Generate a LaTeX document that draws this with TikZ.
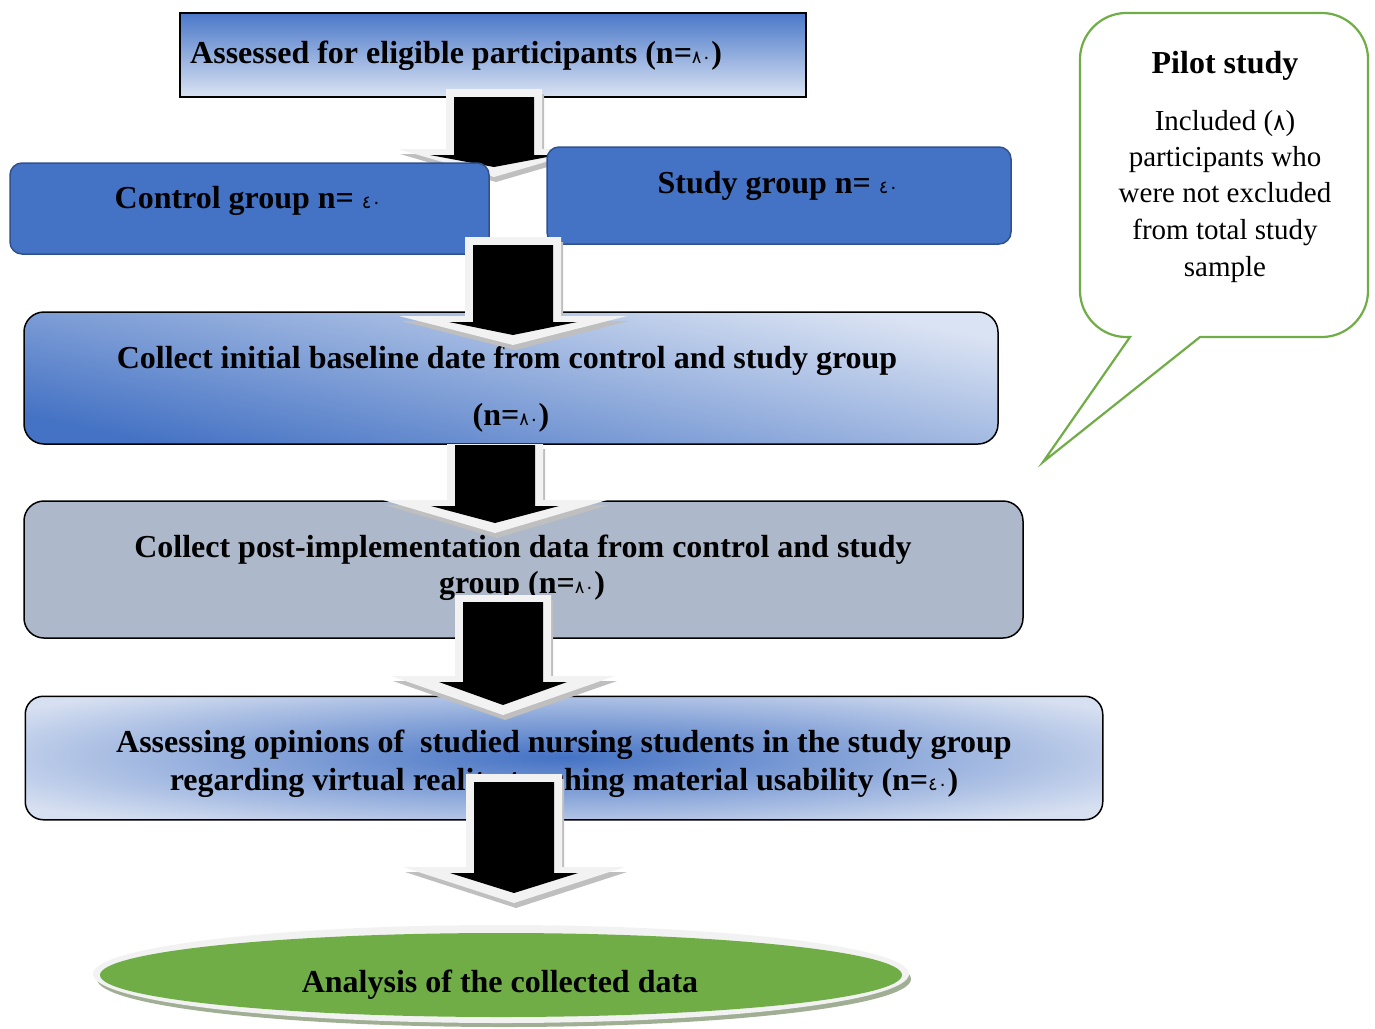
\documentclass[tikz,border=0pt]{standalone}
\usepackage{fontspec}
\setmainfont{Liberation Serif}
\newfontfamily\arfont{DejaVu Sans}
\usetikzlibrary{shapes.geometric}
\newcommand\ad[1]{{\arfont\mdseries\fontsize{18}{18}\selectfont #1}}
\newcommand\adc[1]{{\arfont\mdseries\fontsize{23}{23}\selectfont #1}}
\definecolor{wblue}{HTML}{4472C4}
\definecolor{wblued}{HTML}{2F528F}
\definecolor{wlight}{HTML}{DAE3F3}
\definecolor{tbtop}{HTML}{4A78C8}
\definecolor{wgray}{HTML}{ADB9CA}
\definecolor{b5light}{HTML}{D7E0F1}
\definecolor{wgreen}{HTML}{70AD47}
\definecolor{pgreen}{HTML}{70AD47}
\definecolor{bev}{HTML}{F2F2F2}
\definecolor{bevsh}{HTML}{BFBFBF}
\definecolor{ellsh}{HTML}{A0AE94}
\tikzset{
  mtxt/.style={font=\bfseries\fontsize{32}{38}\selectfont, inner sep=0pt, anchor=base},
  ctxt/.style={font=\fontsize{29}{36}\selectfont, inner sep=0pt, anchor=base},
  boxbase/.style={inner sep=0pt, line width=1.5pt},
  groupbox/.style={boxbase, draw=wblued, fill=wblue, rounded corners=12pt},
  stagebox/.style={boxbase, draw=black, rounded corners=20pt},
}
% #1 centre x, #2 outer top, #3 black top, #4 head top, #5 tip, #6 head half width
\newcommand\blockarrow[6]{%
  \begin{scope}[shift={(2,5)}]
    \fill[bevsh] (#1-48,#2) -- (#1+48,#2) -- (#1+48,#4) -- (#1+#6,#4) -- (#1,#5) -- (#1-#6,#4) -- (#1-48,#4) -- cycle;
  \end{scope}
  \fill[bev] (#1-48,#2) -- (#1+48,#2) -- (#1+48,#4) -- (#1+#6,#4) -- (#1,#5) -- (#1-#6,#4) -- (#1-48,#4) -- cycle;
  \fill[black] (#1-40,#3) -- (#1+40,#3) -- (#1+40,#4+6) -- (#1+64,#4+6) -- (#1,#5-10) -- (#1-64,#4+6) -- (#1-40,#4+6) -- cycle;
}
\begin{document}
\begin{tikzpicture}[x=1pt,y=-1pt]
\useasboundingbox (0,0) rectangle (1375,1028);

% top box
\node[boxbase, draw=black, top color=tbtop, bottom color=wlight, minimum width=626pt, minimum height=84pt] (top) at (493,55) {};
\node[mtxt, anchor=base west] (ttop) at (190,63) {Assessed for eligible participants (n=\ad{٨٠})};

% arrow 1
\blockarrow{494}{89}{97}{149}{177}{96}

% group boxes
\node[groupbox, minimum width=479pt, minimum height=91pt] (control) at (249.5,208.5) {};
\node[mtxt] (tcontrol) at (248,208) {Control group n= \ad{٤٠}};
\node[groupbox, minimum width=464pt, minimum height=97pt] (study) at (779,195.5) {};
\node[mtxt] (tstudy) at (778,193) {Study group n= \ad{٤٠}};

% baseline box
\node[stagebox, top color=wlight, bottom color=wblue, shading angle=-12, minimum width=974pt, minimum height=132pt] (base) at (511,378) {};
\node[mtxt] (tbase1) at (507,368) {Collect initial baseline date from control and study group};
\node[mtxt] (tbase2) at (511,425) {(n=\ad{٨٠})};

% post box
\node[stagebox, fill=wgray, minimum width=999pt, minimum height=137pt] (post) at (523.5,569.5) {};
\node[mtxt] (tpost1) at (523,557) {Collect post-implementation data from control and study};
\node[mtxt] (tpost2) at (522,593) {group (n=\ad{٨٠})};

% assessing box
\node[stagebox, rounded corners=18pt, fill=b5light, minimum width=1076pt, minimum height=122pt] (assess) at (564,758) {};
\begin{scope}
  \clip[rounded corners=18pt] (assess.south west) rectangle (assess.north east);
  \shade[inner color=wblue, outer color=b5light] (-96,673) rectangle (1220,841);
\end{scope}
\draw[line width=1.5pt, rounded corners=18pt] (assess.south west) rectangle (assess.north east);
\node[mtxt] (tass1) at (564,752) {Assessing opinions of \ studied nursing students in the study group};
\node[mtxt] (tass2) at (564,790) {regarding virtual reality teaching material usability (n=\ad{٤٠})};

% arrows 2-5
\blockarrow{513}{237}{245}{316}{345}{114}
\blockarrow{495}{444}{445}{500}{533}{112}
\blockarrow{503}{595}{602}{676}{715}{112}
\blockarrow{514}{774}{782}{867}{903}{111}

% analysis ellipse
\fill[ellsh] (504,979) ellipse [x radius=407pt, y radius=48pt];
\fill[bev] (501,974) ellipse [x radius=408pt, y radius=49pt];
\node[ellipse, fill=wgreen, inner sep=0pt, minimum width=802pt, minimum height=84pt] (analysis) at (501,975) {};
\node[mtxt] (tanalysis) at (500,992) {Analysis of the collected data};

% pilot study callout
\coordinate (ptip) at (1043,462);
\draw[pgreen, line width=2.2pt, line join=miter] (ptip) -- (1200,337) -- (1322,337)
  .. controls (1347,337) and (1368,316) .. (1368,291) -- (1368,59)
  .. controls (1368,34) and (1347,13) .. (1322,13) -- (1126,13)
  .. controls (1101,13) and (1080,34) .. (1080,59) -- (1080,291)
  .. controls (1080,316) and (1101,337) .. (1126,337) -- (1130,337) -- cycle;
\node[mtxt] (tpilot) at (1225,73) {Pilot study};
\node[ctxt] (tp1) at (1225,130) {Included (\adc{٨})};
\node[ctxt] (tp2) at (1225,166) {participants who};
\node[ctxt] (tp3) at (1225,202) {were not excluded};
\node[ctxt] (tp4) at (1225,239) {from total study};
\node[ctxt] (tp5) at (1225,276) {sample};
\end{tikzpicture}
\end{document}
